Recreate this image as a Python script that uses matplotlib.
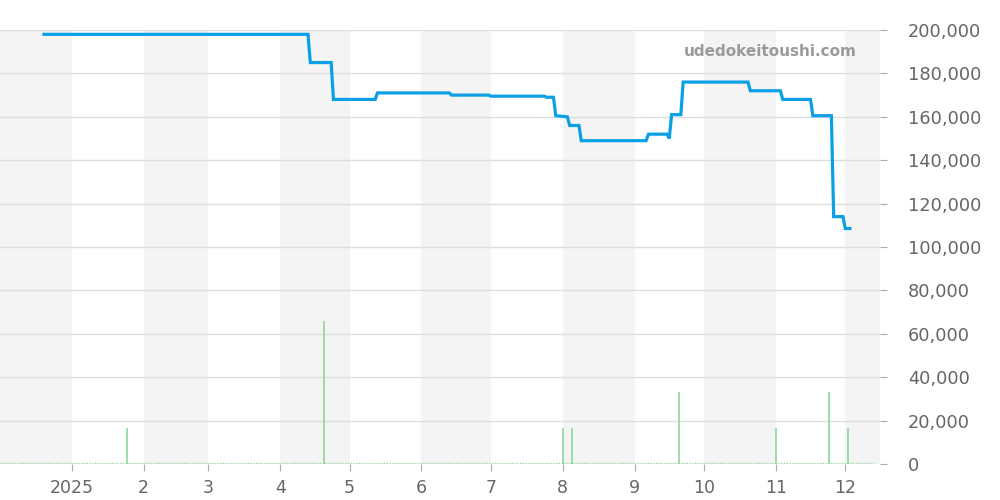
import matplotlib
matplotlib.use("Agg")
import matplotlib.pyplot as plt
import numpy as np
import datetime as dt

# Price series (daily closing points, step-like)
price_dates = ["2024-12-20", "2025-04-13", "2025-04-14", "2025-04-23", "2025-04-24",
               "2025-05-12", "2025-05-13", "2025-06-13", "2025-06-14", "2025-06-30",
               "2025-07-01", "2025-07-24", "2025-07-25", "2025-07-28", "2025-07-29",
               "2025-08-03", "2025-08-04", "2025-08-08", "2025-08-09", "2025-09-06",
               "2025-09-07", "2025-09-15", "2025-09-16", "2025-09-17", "2025-09-21",
               "2025-09-22", "2025-10-20", "2025-10-21", "2025-11-03", "2025-11-04",
               "2025-11-16", "2025-11-17", "2025-11-25", "2025-11-26", "2025-11-30",
               "2025-12-01", "2025-12-03"]
price_values = [198000, 198000, 185000, 185000, 168000,
                168000, 171000, 171000, 170000, 170000,
                169500, 169500, 169000, 169000, 160500,
                160000, 156000, 156000, 149000, 149000,
                152000, 152000, 150000, 161000, 161000,
                176000, 176000, 172000, 172000, 168000,
                168000, 160500, 160500, 114000, 114000,
                108500, 108500]

# Volume bars
volume_dates = ["2025-01-25", "2025-04-20", "2025-08-01", "2025-08-05",
                "2025-09-20", "2025-11-01", "2025-11-24", "2025-12-02"]
volume_values = [16500, 66000, 16500, 16500, 33000, 16500, 33000, 16500]

month_starts = ["2024-12-01", "2025-01-01", "2025-02-01", "2025-03-01", "2025-04-01",
                "2025-05-01", "2025-06-01", "2025-07-01", "2025-08-01", "2025-09-01",
                "2025-10-01", "2025-11-01", "2025-12-01", "2026-01-01"]
tick_labels = ["2025", "2", "3", "4", "5", "6", "7", "8", "9", "10", "11", "12"]

def d(s):
    return dt.datetime.strptime(s, "%Y-%m-%d")

pd_ = [d(s) for s in price_dates]
vd_ = [d(s) for s in volume_dates]
ms = [d(s) for s in month_starts]

fig = plt.figure(figsize=(10, 5), dpi=100)
ax = fig.add_axes([0.0, 0.072, 0.88, 0.868])

xmin = d("2024-12-01")
xmax = d("2025-12-16")
ax.set_xlim(xmin, xmax)
ax.set_ylim(0, 200000)

# alternating month bands
for i in range(len(ms) - 1):
    if i % 2 == 0:
        ax.axvspan(ms[i], ms[i + 1], color="#f4f4f4", zorder=0, lw=0)

# gridlines
ax.set_yticks(np.arange(0, 200001, 20000))
ax.yaxis.grid(True, color="#dedede", lw=1)
ax.set_axisbelow(True)

# baseline dotted green
ax.plot([d("2024-12-01"), d("2025-12-13")], [300, 300], color="#9ed9a8", lw=1, ls=(0, (1, 1)), zorder=2)

# volume
ax.vlines(vd_, 0, volume_values, color="#8fd69b", lw=1.2, zorder=3)

# price
ax.plot(pd_, price_values, color="#0aa0e6", lw=2.3, zorder=4, solid_joinstyle="miter")

# axes styling
for s in ["top", "left", "right", "bottom"]:
    ax.spines[s].set_visible(False)
ax.yaxis.tick_right()
ax.yaxis.set_label_position("right")
ax.set_yticklabels([f"{v:,}" for v in range(0, 200001, 20000)])
ax.tick_params(axis="y", which="both", length=5, color="#aaaaaa", labelsize=12.8,
               labelcolor="#666666", pad=15)
ax.set_xticks(ms[1:13])
ax.set_xticklabels(tick_labels)
ax.tick_params(axis="x", length=5, color="#aaaaaa", labelsize=12.5, labelcolor="#666666", pad=6)

ax.text(0.973, 0.95, "udedokeitoushi.com", transform=ax.transAxes, ha="right", va="center",
        fontsize=11, fontweight="bold", color="#9a9a9a", zorder=5)

fig.savefig("out.png", dpi=100)
